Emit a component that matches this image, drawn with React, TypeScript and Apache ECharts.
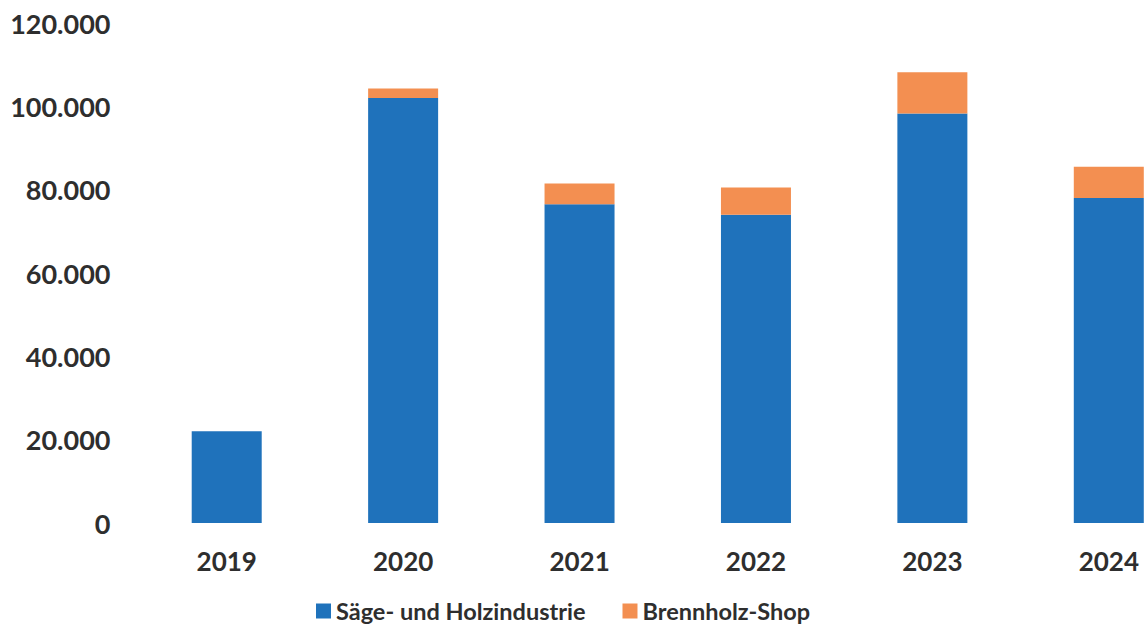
import React, { useEffect, useRef } from "react";
import * as echarts from "echarts";

const years = ["2019", "2020", "2021", "2022", "2023", "2024"];
const saegeHolz = [22000, 102000, 76500, 74000, 98300, 78000];
const brennholz = [0, 2300, 5000, 6500, 9900, 7500];
const seriesNames = ["Säge- und Holzindustrie", "Brennholz-Shop"];

const BLUE = "#1f72bb";
const ORANGE = "#f38f51";
const TEXT = "#2e2e2e";
const FONT = "Lato";

export default function App() {
  const ref = useRef<HTMLDivElement>(null);
  useEffect(() => {
    if (!ref.current) return;
    const chart = echarts.init(ref.current, undefined, { renderer: "svg" });
    chart.setOption({
      animation: false,
      backgroundColor: "#ffffff",
      grid: { left: 138.5, right: 0, top: 23, bottom: 108, containLabel: false },
      legend: {
        left: 311,
        top: 594,
        itemWidth: 15,
        itemHeight: 15,
        itemGap: 37,
        icon: "rect",
        textStyle: { fontFamily: FONT, fontWeight: "bold", fontSize: 23.5, color: TEXT },
        data: seriesNames,
      },
      xAxis: {
        type: "category",
        data: years,
        axisLine: { show: false },
        axisTick: { show: false },
        axisLabel: {
          margin: 25,
          fontFamily: FONT,
          fontWeight: "bold",
          fontSize: 26,
          color: TEXT,
        },
      },
      yAxis: {
        type: "value",
        min: 0,
        max: 120000,
        interval: 20000,
        splitLine: { show: false },
        axisLine: { show: false },
        axisTick: { show: false },
        axisLabel: {
          margin: 28,
          fontFamily: FONT,
          fontWeight: "bold",
          fontSize: 27,
          color: TEXT,
          formatter: (v: number) =>
            v === 0 ? "0" : v.toString().replace(/\B(?=(\d{3})+(?!\d))/g, "."),
        },
      },
      series: [
        {
          name: seriesNames[0],
          type: "bar",
          stack: "total",
          barWidth: 70,
          itemStyle: { color: BLUE },
          data: saegeHolz,
        },
        {
          name: seriesNames[1],
          type: "bar",
          stack: "total",
          barWidth: 70,
          itemStyle: { color: ORANGE },
          data: brennholz,
        },
      ],
    });
    return () => chart.dispose();
  }, []);
  return (
    <div
      style={{
        position: "absolute",
        left: 0,
        top: 0,
        width: 1144,
        height: 631,
        overflow: "hidden",
        background: "#ffffff",
      }}
    >
      <div ref={ref} style={{ width: 1197, height: 631 }} />
    </div>
  );
}
